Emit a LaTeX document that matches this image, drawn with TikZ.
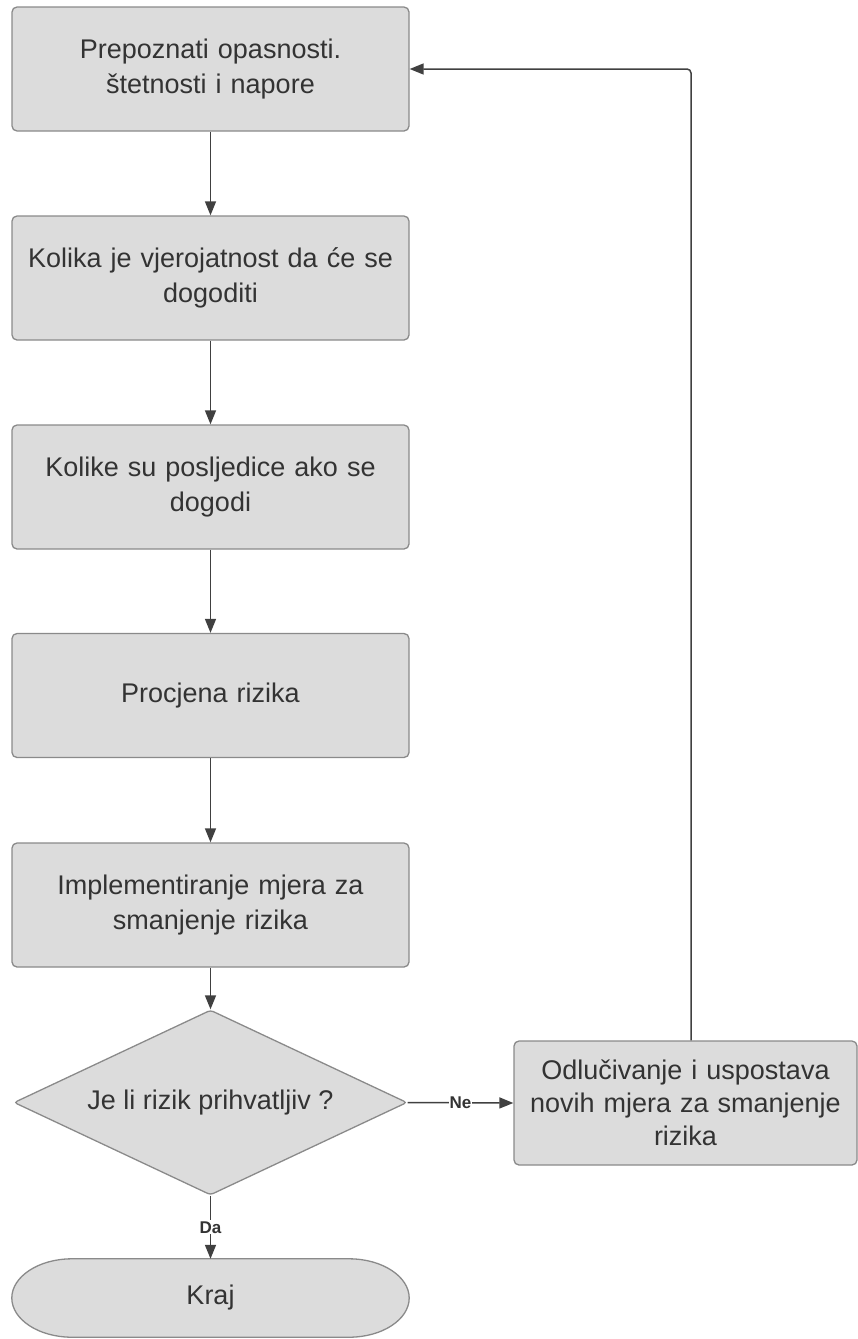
\documentclass[tikz,border=0pt]{standalone}
\usepackage{fontspec}
\setmainfont{Liberation Sans}
\usetikzlibrary{shapes.geometric,arrows.meta,backgrounds}
\definecolor{boxfill}{HTML}{DCDCDC}
\definecolor{boxline}{HTML}{8A8A8A}
\definecolor{txt}{HTML}{333333}
\definecolor{arr}{HTML}{404040}
\begin{document}
\begin{tikzpicture}[x=1pt,y=-1pt,
  shapebase/.style={draw=boxline,fill=boxfill,line width=1.3pt,text=txt,inner sep=0pt,
    font=\fontsize{27}{35}\selectfont},
  proc/.style={shapebase,rectangle,rounded corners=5pt,minimum width=397pt,minimum height=124pt,
    text width=390pt,align=center},
  side/.style={shapebase,rectangle,rounded corners=5pt,minimum width=343pt,minimum height=124pt,
    text width=340pt,align=center,font=\fontsize{27}{33}\selectfont},
  decision/.style={shapebase,diamond,minimum width=393pt,minimum height=185pt,aspect=2.1,rounded corners=3pt},
  termshape/.style={draw=boxline,fill=boxfill,line width=1.3pt},
  conn/.style={draw=arr,line width=1.5pt,-{Triangle[length=14pt,width=11pt]}},
  lbl/.style={fill=white,inner sep=1pt,text=txt,font=\fontsize{17}{17}\selectfont\bfseries}
]
\useasboundingbox (0,0) rectangle (858,1339);

\node[proc] (p1) at (210.5,69) {Prepoznati opasnosti.\\ štetnosti i napore};
\node[proc] (p2) at (210.5,278) {Kolika je vjerojatnost da će se\\ dogoditi};
\node[proc] (p3) at (210.5,487) {Kolike su posljedice ako se\\ dogodi};
\node[proc] (p4) at (210.5,695.5) {Procjena rizika};
\node[proc] (p5) at (210.5,905) {Implementiranje mjera za\\ smanjenje rizika};
\node[decision] (dec) at (210.5,1102.5) {Je li rizik prihvatljiv ?};
\node[side] (r) at (685.5,1103) {Odlučivanje i uspostava\\ novih mjera za smanjenje\\ rizika};
\node[text=txt,font=\fontsize{27}{35}\selectfont,minimum width=397pt,minimum height=78pt,inner sep=0pt] (kraj) at (210.5,1298) {Kraj};

\begin{scope}[on background layer]
\path[termshape] ([xshift=60pt]kraj.north west) -- ([xshift=-60pt]kraj.north east)
  .. controls ([xshift=-27pt]kraj.north east) and ([yshift=21.5pt]kraj.east) .. (kraj.east)
  .. controls ([yshift=-21.5pt]kraj.east) and ([xshift=-27pt]kraj.south east) .. ([xshift=-60pt]kraj.south east)
  -- ([xshift=60pt]kraj.south west)
  .. controls ([xshift=27pt]kraj.south west) and ([yshift=-21.5pt]kraj.west) .. (kraj.west)
  .. controls ([yshift=21.5pt]kraj.west) and ([xshift=27pt]kraj.north west) .. ([xshift=60pt]kraj.north west)
  -- cycle;
\end{scope}

\coordinate (lp) at (691,0);

\draw[conn] (p1) -- (p2);
\draw[conn] (p2) -- (p3);
\draw[conn] (p3) -- (p4);
\draw[conn] (p4) -- (p5);
\draw[conn] (p5) -- (dec);
\draw[conn] (dec.east) -- node[lbl] {Ne} (r.west);
\draw[conn] (dec.south) -- node[lbl] {Da} (kraj.north);
\draw[conn,rounded corners=4pt] (lp |- r.north) |- (p1.east);
\end{tikzpicture}
\end{document}
